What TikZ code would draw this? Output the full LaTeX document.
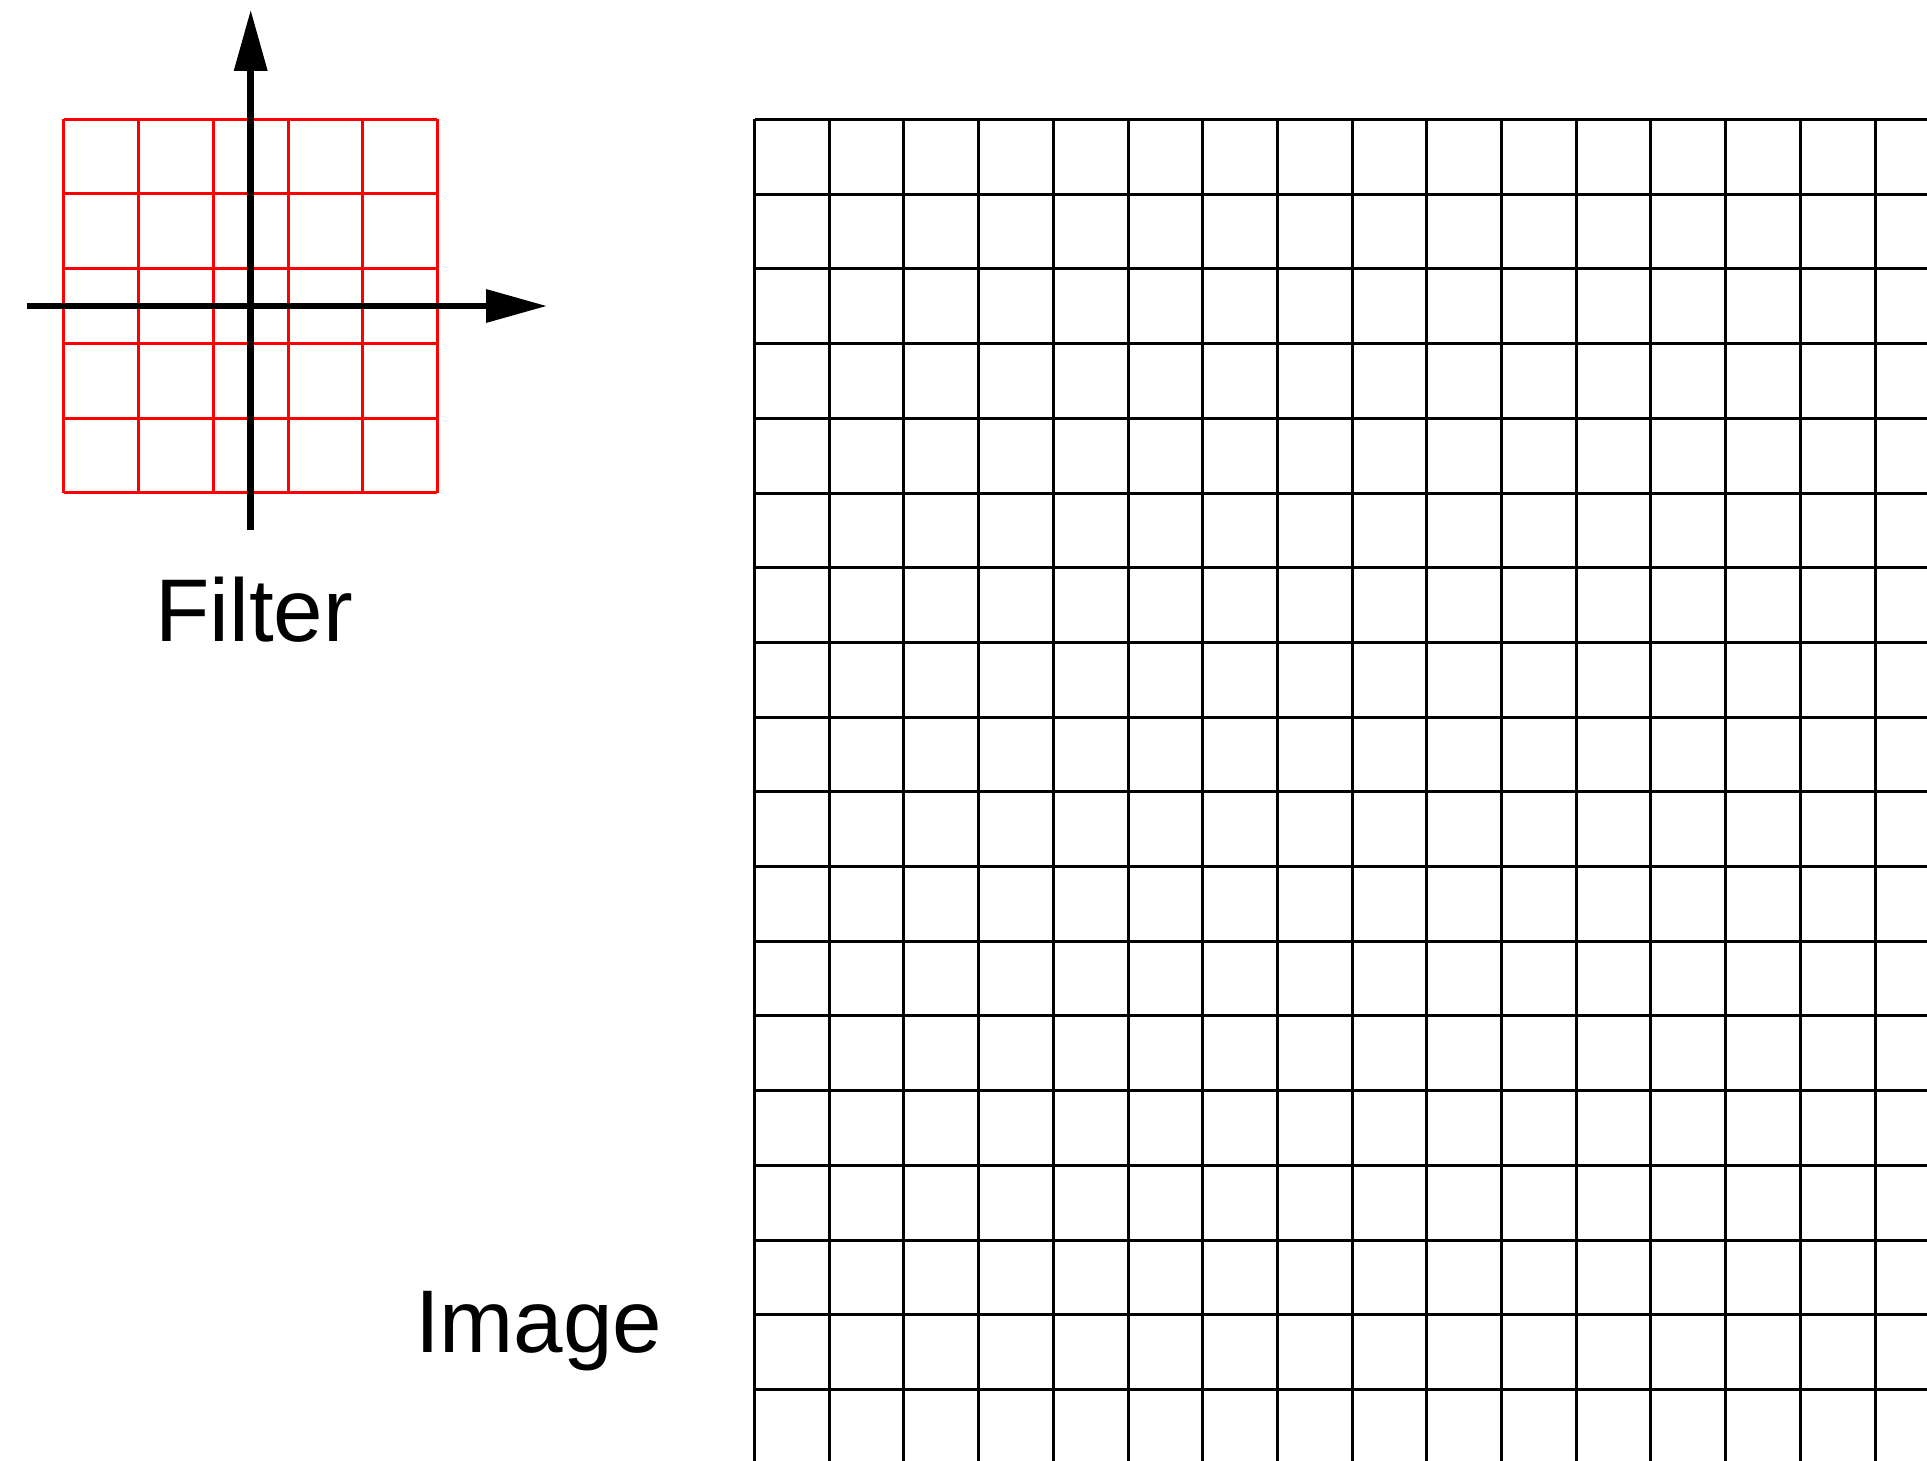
\documentclass[tikz,border=0pt]{standalone}
\usepackage{fontspec}
\setmainfont{Liberation Sans}
\usetikzlibrary{arrows.meta}
\tikzset{
  imgline/.style={draw=black, line width=3pt},
  filtline/.style={draw=red, line width=3pt},
  axisline/.style={draw=black, line width=6.5pt, -{Triangle[length=61pt,width=32pt]}},
  lbl/.style={font=\fontsize{89}{100}\selectfont, anchor=base, inner sep=0pt}
}
\begin{document}
\begin{tikzpicture}[x=1pt,y=-1pt]
\useasboundingbox (0,0) rectangle (1927,1461);
\begin{scope}
\clip (0,0) rectangle (1927,1461);
% image grid
\foreach \i in {0,...,16} {
  \draw[imgline] ({754.5+\i*74.7},119.5) -- ({754.5+\i*74.7},1470);
}
\foreach \j in {0,...,18} {
  \draw[imgline] (754.5,{119.5+\j*74.7}) -- (1935,{119.5+\j*74.7});
}
\end{scope}
% filter grid
\foreach \i in {0,...,5} {
  \draw[filtline] ({63.9+\i*74.7},119.2) -- ({63.9+\i*74.7},492.7);
  \draw[filtline] (63.9,{119.2+\i*74.7}) -- (437.4,{119.2+\i*74.7});
}
% axes
\coordinate (xs) at (27,306);
\coordinate (xe) at (547,306);
\coordinate (ys) at (250.7,529.7);
\coordinate (ye) at (250.7,9.8);
\draw[axisline] (xs) -- (xe);
\draw[axisline] (ys) -- (ye);
% labels
\node[lbl] (filter) at (254,641) {Filter};
\node[lbl] (image) at (538.7,1352) {Image};
\end{tikzpicture}
\end{document}
